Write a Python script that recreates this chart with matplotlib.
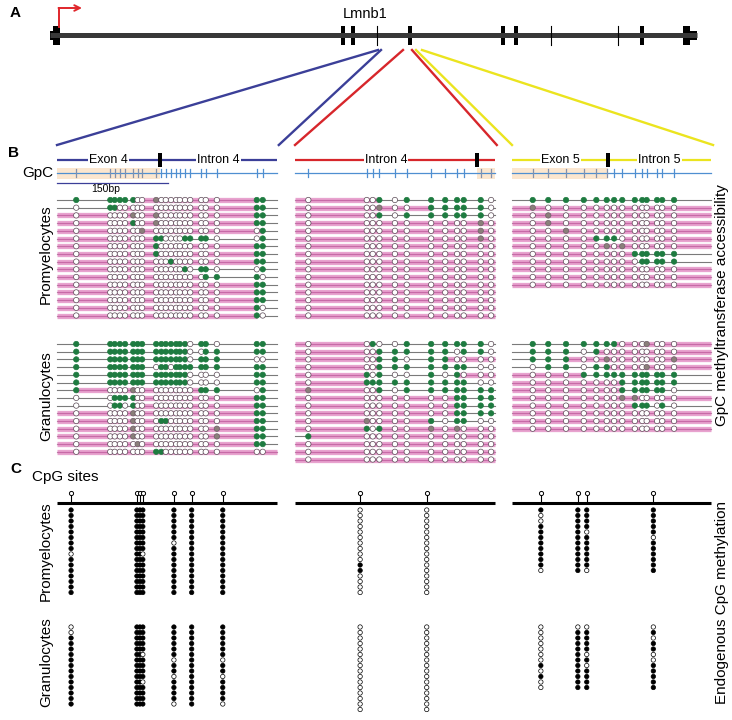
"""Lmnb1 locus: gene model (A), GpC accessibility reads (B), CpG methylation (C).

Drawn on one pixel-sized canvas so the three panels can share positions.
"""
import matplotlib
matplotlib.use("Agg")
import matplotlib.pyplot as plt
from matplotlib.patches import Rectangle

plt.rcParams["font.family"] = ["Liberation Sans", "DejaVu Sans"]

# ---------------- data ----------------
# A: gene model, positions along the drawn gene axis
GENE_SPAN = (50, 697)
EXON_THICK = [343, 353, 410, 503, 516, 642]
EXON_THIN = [377, 551, 618]
# where each zoom wedge leaves the gene (blue / red / yellow)
ZOOM_FROM = [(378, 381), (403, 412), (416, 422)]

# B: three amplicons, GpC sites in bp from amplicon start
AMP_LEN = [297, 270, 269]
AMP_JUNCTION = [139, 246, 130]
AMP_EXON_SIDE = ["left", "right", "left"]
AMP_LABELS = [("Exon 4", "Intron 4"), (None, "Intron 4"), ("Exon 5", "Intron 5")]
GPC_SITES = [
    [26, 72, 78, 85, 92, 103, 109, 115, 134, 141, 147, 154, 161, 166, 173,
     180, 195, 201, 216, 270, 278],
    [18, 97, 105, 114, 135, 151, 184, 203, 219, 228, 251, 265],
    [28, 49, 73, 97, 114, 128, 138, 149, 166, 176, 182, 196, 203, 219],
]

# reads: g accessible, o not accessible, x ambiguous; upper case = footprint
PROM_READS = [
    [  # exon 4 / intron 4
        "g gggg gOO X OOOOOOO OO O gg",
        "o ggOO OOO O OOOOOOO OO O gg",
        "O OOOO XOO X OOOOOOO OO O gg",
        "O OOOO GOO X OOOOOOO OO O gg",
        "O OOOO OOX O OOOOOOO OO O Og",
        "O OOOO OOO g goooogg gg o og",
        "O OOOO OOO G OOOOOOO OO O gg",
        "O OOOO OOO G OOOOOOO OO O gg",
        "O OOOO OOO O OOGOOOO OO O gg",
        "O OOOO OOO O OOOOOgo gg o og",
        "O OOOO OOO O OOOOOOO Og g go",
        "O OOOO OOO O OOOOOOO OO O gg",
        "O OOOO OOO O OOOOOOO OO O gg",
        "O OOOO OOO O OOOOOOO OO O gg",
        "O OOOO OOO O OOOOOOO OO O go",
        "O OOOO OOO O OOOOOOO OO O go",
    ],
    [  # intron 4
        "OOO g o g gggg go",
        "OOO X O O gggg go",
        "OOO g o g gggg go",
        "OOO O O O OOOO XO",
        "OOO O O O OOOO XO",
        "OOO O O O OOOO XO",
        "OOO O O O OOOO OO",
        "OOO O O O OOOO OO",
        "OOO O O O OOOO OO",
        "OOO O O O OOOO OO",
        "OOO O O O OOOO OO",
        "OOO O O O OOOO OO",
        "OOO O O O OOOO OO",
        "OOO O O O OOOO OO",
        "OOO O O O OOOO OO",
        "OOO O O O OOOO OO",
    ],
    [  # exon 5 / intron 5
        "gggg gggg ggg ggg",
        "XOOO OOOO OOO OOO",
        "OXOO OOOO OOO OOO",
        "OXOO OOOO OOO OOO",
        "OOXO OOOO OOO OOO",
        "OOOO gggo OOO OOO",
        "OOOO OXOX OOO OOO",
        "OOOO OOOO ggg ggg",
        "OOOO OOOO ogg ggg",
        "OOOO OOOO OOO OOO",
        "OOOO OOOO OOO OOO",
        "OOOO OOOO OOO OOO",
    ],
]
GRAN_READS = [
    [
        "g gggg ggg g ggggggo gg o gg",
        "g gggg ggg g ggggggo og g gg",
        "g gggg ggg g ggggggo gg g oo",
        "g gggg ggg o ggogggg gg g gg",
        "g gggg ggg g ggggggo oo o gg",
        "g gggg ggg g ggggggo oo o gg",
        "g OOOO XOO O OOOOOOO gg g og",
        "o oggg gOO O OOOOOOO OO O gg",
        "o oggo gOO O OOOOOOO OO O gg",
        "O OOOO XOO O OOOOOOO OO O gg",
        "O OOOO XOO O GGOOOOO OO O gg",
        "O OOOO XOO O OOOOOOO OO X gg",
        "O OOOO XOO O OOOOOOO OO X gg",
        "O OOOO OXO O OOOOOOO OO O gg",
        "O OOOO OOO G GOOOOOO OO O OO",
    ],
    [
        "O Ogo o g gggg go",
        "O OOg g g ggog go",
        "O OOg g o ggOO OO",
        "O OOg g g gggg oo",
        "O gog o o gogO OO",
        "O ggg g g gggg oo",
        "X OOg o g gggg gg",
        "O OOO O O OOgg gg",
        "O OOO O O OOgg gg",
        "O OOO O O OOgg gg",
        "O XOO O O goggoo",
        "O gog O O XOXO OO",
        "g OOO O O OOOO OO",
        "O OOO O O OOOO OO",
        "O OOO O O OOOO OO",
        "O OOO O O OOOO OO",
    ],
    [
        "gggg gggO OOX OOO",
        "gggo gOOO OOO OOO",
        "gggO OXOO OOO OOX",
        "oggo ggOO OOX OOO",
        "OOOg gggg ggg ggg",
        "OOOO OOOg ggg ggg",
        "OOOO OOOg ggg ggo",
        "OOOO OOOX XOO OOO",
        "OOOO OOOO ggg ogo",
        "OOOO OOOO OOO OOO",
        "OOOO OOOO OOO OOO",
        "OOOO OOOO OOO OOO",
    ],
]

# C: CpG sites (bp from amplicon start); one string per site, 1 = methylated
CPG_SITES = [[19, 108, 112, 116, 158, 182, 224], [88, 178], [39, 89, 101, 191]]
CPG_PROM = [
    ["1111111101111111", "1111111111111111", "1111111111111111",
     "1111111101111111", "1111110111111111", "1111111111111111",
     "1111111111111111"],
    ["0000000000110000", "0000000000000000"],
    ["100111111110", "111111111111", "111101111110", "111110111111"],
]
CPG_GRAN = [
    ["001111111111111", "111111111111111", "111111111111111",
     "111110111101111", "111111011011110", "111111111111111",
     "111111011011110"],
    ["0000000000000000", "0000000000000000"],
    ["000000010100", "011111111111", "011110101111", "010110011111"],
]

# ---------------- style ----------------
ZOOM_COLORS = ["#3b3f98", "#d7262b", "#ebe41f"]
GREEN = "#1e7b40"
AMBIG = "#8a7f7a"
PINK = "#e8a3cf"
PINK_MID = "#c76aa7"
READ_GREY = "#7a7a7a"
GPC_BLUE = "#4f8fd1"
BEIGE = "#fbe6cf"
PX_PER_BP = 0.74
PANEL_X = [57, 295, 512]


def draw_gene(ax):
    g0, g1 = GENE_SPAN
    ax.text(10, 13, "A", fontsize=11, fontweight="bold", va="center")
    ax.text(365, 14, "Lmnb1", fontsize=10.5, ha="center", va="center")
    ax.plot([g0, g1], [35, 35], color="#383838", lw=3.6, solid_capstyle="butt")
    ax.add_patch(Rectangle((g0 + 3, 26), 7, 19, color="black", lw=0))
    ax.add_patch(Rectangle((g0, 31), 10, 9, color="black", lw=0))
    ax.add_patch(Rectangle((g1 - 14, 26), 7, 19, color="black", lw=0))
    ax.add_patch(Rectangle((g1 - 8, 31), 8, 9, color="black", lw=0))
    for x in EXON_THICK:
        ax.add_patch(Rectangle((x - 1.6, 26), 3.2, 19, color="black", lw=0))
    for x in EXON_THIN:
        ax.plot([x, x], [26, 45], color="black", lw=0.8)
    # transcription start arrow
    red = "#e0262b"
    ax.plot([g0 + 9, g0 + 9], [27, 8], color=red, lw=1.4)
    ax.annotate("", xy=(g0 + 32, 8), xytext=(g0 + 8.5, 8),
                arrowprops=dict(arrowstyle="->", color=red, lw=1.4,
                                mutation_scale=10, shrinkA=0, shrinkB=0))
    # zoom wedges into panel B
    for k, (a, b) in enumerate(ZOOM_FROM):
        x0 = PANEL_X[k]
        x1 = x0 + AMP_LEN[k] * PX_PER_BP
        ax.plot([a, x0], [50, 145], color=ZOOM_COLORS[k], lw=1.7)
        ax.plot([b, x1 + 2], [50, 145], color=ZOOM_COLORS[k], lw=1.7)


def draw_reads(ax, x0, x1, xs, rows, y0, dy=7.7):
    for i, raw in enumerate(rows):
        row = raw.replace(" ", "")
        y = y0 + i * dy
        ax.plot([x0, x1], [y, y], color=READ_GREY, lw=0.8, zorder=1)
        n = len(row)
        j = 0
        while j < n:
            if not row[j].isupper():
                j += 1
                continue
            k = j
            while k + 1 < n and row[k + 1].isupper():
                k += 1
            a = xs[j - 1] if j > 0 else x0
            b = xs[k + 1] if k < n - 1 else x1
            ax.plot([a, b], [y, y], color=PINK, lw=3.8,
                    solid_capstyle="butt", zorder=2)
            ax.plot([a, b], [y, y], color=PINK_MID, lw=0.9,
                    solid_capstyle="butt", zorder=2.1)
            j = k + 1
        face = [{"g": GREEN, "o": "white", "x": AMBIG}[c.lower()] for c in row]
        edge = [GREEN if c.lower() == "g" else ("#6d6068" if c.lower() == "x"
                                                else "#5a4a55") for c in row]
        ax.scatter(xs, [y] * n, s=15, c=face, edgecolors=edge,
                   linewidths=0.5, zorder=3)


def draw_amplicon(ax, k):
    x0 = PANEL_X[k]
    x1 = x0 + AMP_LEN[k] * PX_PER_BP
    xj = x0 + AMP_JUNCTION[k] * PX_PER_BP
    head_y, gpc_y = 160, 173
    ax.plot([x0, x1], [head_y, head_y], color=ZOOM_COLORS[k], lw=1.6,
            solid_capstyle="butt", zorder=1)
    ax.add_patch(Rectangle((xj - 2, head_y - 7), 4, 14, color="black",
                           lw=0, zorder=3))
    if AMP_EXON_SIDE[k] == "left":
        exon, intron = (x0, xj), (xj, x1)
    else:
        intron, exon = (x0, xj), (xj, x1)
    exon_lab, intron_lab = AMP_LABELS[k]
    for lab, (a, b) in ((exon_lab, exon), (intron_lab, intron)):
        if lab:
            ax.text((a + b) / 2, head_y, lab, ha="center", va="center",
                    fontsize=9, zorder=2,
                    bbox=dict(fc="white", ec="none", pad=0.8))
    # GpC track
    ax.add_patch(Rectangle((exon[0], gpc_y - 5.5), exon[1] - exon[0], 11,
                           color=BEIGE, lw=0, zorder=0))
    ax.plot([x0, x1], [gpc_y, gpc_y], color=GPC_BLUE, lw=0.9, zorder=1)
    xs = [x0 + s * PX_PER_BP for s in GPC_SITES[k]]
    for x in xs:
        c = "#8190ad" if exon[0] <= x <= exon[1] else GPC_BLUE
        ax.plot([x, x], [gpc_y - 3.8, gpc_y + 3.8], color=c, lw=0.9, zorder=2)
    draw_reads(ax, x0, x1, xs, PROM_READS[k], 200)
    draw_reads(ax, x0, x1, xs, GRAN_READS[k], 344)


def draw_cpg(ax, k):
    x0 = PANEL_X[k]
    x1 = x0 + AMP_LEN[k] * PX_PER_BP
    line_y = 503
    ax.plot([x0, x1], [line_y, line_y], color="black", lw=2.2,
            solid_capstyle="butt")
    xs = [x0 + s * PX_PER_BP for s in CPG_SITES[k]]
    for x in xs:
        ax.plot([x, x], [line_y, 494.5], color="black", lw=0.8)
    ax.scatter(xs, [492.5] * len(xs), s=9, c="white", edgecolors="black",
               linewidths=0.7, zorder=3)
    for cols, y0 in ((CPG_PROM[k], 510), (CPG_GRAN[k], 627)):
        for x, col in zip(xs, cols):
            ys = [y0 + i * 5.5 for i in range(len(col))]
            face = ["black" if c == "1" else "white" for c in col]
            ax.scatter([x] * len(col), ys, s=10, c=face, edgecolors="black",
                       linewidths=0.5, zorder=3)


def main() -> None:
    fig = plt.figure(figsize=(7.32, 7.2), dpi=100)
    ax = fig.add_axes([0, 0, 1, 1])
    ax.set_xlim(0, 732)
    ax.set_ylim(720, 0)
    ax.axis("off")

    draw_gene(ax)

    ax.text(8, 153, "B", fontsize=11, fontweight="bold", va="center")
    ax.text(53, 173, "GpC", fontsize=11, ha="right", va="center")
    for k in range(3):
        draw_amplicon(ax, k)
    # 150 bp scale bar
    x0 = PANEL_X[0]
    ax.plot([x0, x0 + 150 * PX_PER_BP], [183, 183], color=ZOOM_COLORS[0], lw=0.9)
    ax.text(x0 + 75 * PX_PER_BP - 7, 189.5, "150bp", fontsize=7.5,
            ha="center", va="center")

    ax.text(10, 469, "C", fontsize=11, fontweight="bold", va="center")
    ax.text(32, 477, "CpG sites", fontsize=11, va="center")
    for k in range(3):
        draw_cpg(ax, k)

    for y, lab in ((254, "Promyelocytes"), (396, "Granulocytes"),
                   (551, "Promyelocytes"), (662, "Granulocytes")):
        ax.text(46, y, lab, rotation=90, fontsize=11, ha="center", va="center")
    ax.text(722, 305, "GpC methyltransferase accessibility", rotation=90,
            fontsize=11, ha="center", va="center")
    ax.text(722, 603, "Endogenous CpG methylation", rotation=90,
            fontsize=11, ha="center", va="center")

    fig.savefig("out.png", dpi=100)


if __name__ == "__main__":
    main()
